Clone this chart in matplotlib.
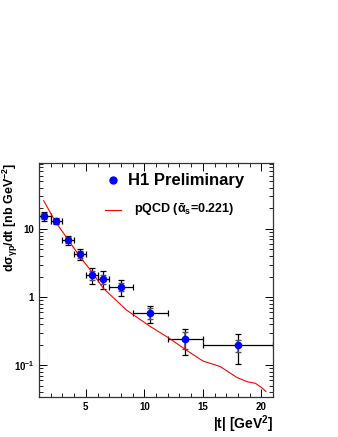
import matplotlib
matplotlib.use('Agg')
from matplotlib import pyplot as plt
from matplotlib.ticker import FixedLocator, FixedFormatter, MultipleLocator, LogLocator, NullFormatter

# data points (H1 preliminary)
t = [1.45, 2.45, 3.5, 4.5, 5.5, 6.5, 8.0, 10.5, 13.5, 18.0]
t_lo = [1.0, 2.0, 3.0, 4.0, 5.0, 6.0, 7.0, 9.0, 12.0, 15.0]
t_hi = [2.0, 3.0, 4.0, 5.0, 6.0, 7.0, 9.0, 12.0, 15.0, 21.0]
xsec = [15.5, 13.1, 6.9, 4.3, 2.1, 1.84, 1.41, 0.58, 0.24, 0.195]
err_stat = [1.5, 1.0, 0.6, 0.5, 0.35, 0.3, 0.2, 0.1, 0.07, 0.04]
err_tot = [2.3, 1.4, 1.0, 0.8, 0.55, 0.55, 0.38, 0.16, 0.1, 0.09]

# pQCD curve
t_curve = [1.4, 2.4, 3.5, 4.5, 5.5, 6.5, 8.5, 10.5, 12.1, 13.5, 15.0, 16.5, 17.9, 18.8, 19.5, 20.0, 20.4]
y_curve = [26, 12.8, 6.9, 3.9, 2.36, 1.34, 0.64, 0.37, 0.25, 0.17, 0.115, 0.095, 0.066, 0.057, 0.054, 0.047, 0.041]

plt.rcParams['font.family'] = ['Liberation Sans', 'DejaVu Sans']
plt.rcParams['mathtext.fontset'] = 'custom'
plt.rcParams['mathtext.rm'] = 'Liberation Sans:bold'
plt.rcParams['mathtext.it'] = 'Liberation Sans:bold'
plt.rcParams['mathtext.bf'] = 'Liberation Sans:bold'

fig = plt.figure(figsize=(3.38, 4.37), dpi=100)
ax = fig.add_axes([39 / 338, 40 / 437, 234 / 338, 234 / 437])

xerr = [[a - b for a, b in zip(t, t_lo)], [b - a for a, b in zip(t, t_hi)]]
ax.errorbar(t, xsec, xerr=xerr, yerr=err_tot, fmt='none', ecolor='black',
            elinewidth=0.9, capsize=2.5, capthick=0.9)
ax.errorbar(t, xsec, yerr=err_stat, fmt='none', ecolor='#555555',
            elinewidth=1.2, capsize=2.5, capthick=1.0)
ax.plot(t_curve, y_curve, color='red', lw=0.8)
ax.plot(t, xsec, 'o', color='blue', ms=4.5, zorder=5)

ax.set_yscale('log')
ax.set_xlim(1, 21)
ax.set_ylim(0.034, 93)

ax.xaxis.set_major_locator(FixedLocator([5, 10, 15, 20]))
ax.xaxis.set_minor_locator(MultipleLocator(1))
ax.yaxis.set_major_locator(FixedLocator([0.1, 1, 10]))
ax.yaxis.set_major_formatter(FixedFormatter([r'10$^{-1}$', '1', '10']))
ax.yaxis.set_minor_locator(LogLocator(base=10, subs=range(2, 10)))
ax.yaxis.set_minor_formatter(NullFormatter())
ax.tick_params(which='both', direction='in', top=True, right=True, labelsize=7)
ax.tick_params(which='major', length=6, width=0.7)
ax.tick_params(which='minor', length=3, width=0.6)
for lbl in ax.get_xticklabels() + ax.get_yticklabels():
    lbl.set_fontweight('bold')
for s in ax.spines.values():
    s.set_linewidth(0.9)
    s.set_color('#333333')

ax.set_xlabel(r'|t| [GeV$^2$]', fontsize=10, fontweight='bold', loc='right')
ax.xaxis.set_label_coords(1.0, -0.068)
ax.set_ylabel(r'd$\sigma_{\gamma p}$/dt [nb GeV$^{-2}$]', fontsize=9, fontweight='bold', loc='top')
ax.yaxis.set_label_coords(-0.08, 1.0)

# legend
ax.plot([7.3], [52], 'o', color='blue', ms=5)
ax.text(8.6, 52, 'H1 Preliminary', fontsize=12, fontweight='bold', va='center')
ax.plot([6.6, 8.0], [19, 19], color='red', lw=0.8)
ax.text(9.1, 19, r'pQCD ($\bar{\alpha}_s$=0.221)', fontsize=9, fontweight='bold', va='center')

plt.savefig('out.png', dpi=100)
